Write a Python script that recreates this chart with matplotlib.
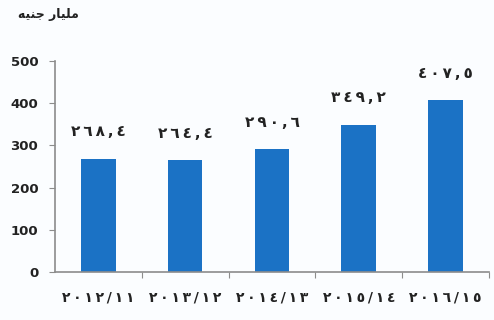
import matplotlib
matplotlib.use('Agg')
import matplotlib.pyplot as plt
import numpy as np

#data
years = ['2012/11', '2013/12', '2014/13', '2015/14', '2016/15']
values = [268.4, 264.4, 290.6, 349.2, 407.5]
y_ticks = [0, 100, 200, 300, 400, 500]

#unit title, already shaped (presentation forms, visual order) since matplotlib has no arabic shaping
unit_title = '\ufeea\ufef4\ufee8\ufe9f \ufead\ufe8e\ufef4\ufee0\ufee3'

#western digits -> arabic-indic digits
to_arabic = str.maketrans('0123456789.', '\u0660\u0661\u0662\u0663\u0664\u0665\u0666\u0667\u0668\u0669,')

def arabic(s):
	#arabic digits with a bit of letter spacing like the original
	return '\u2009'.join(s.translate(to_arabic))

bar_color = '#1b72c5'
axis_color = '#8c8c8c'
text_color = '#222222'

fig = plt.figure(figsize=(4.94, 3.2), dpi=100)
fig.patch.set_facecolor('#fbfdff')
ax = fig.add_axes([0.111, 0.15, 0.879, 0.659])
ax.set_facecolor('#fbfdff')

x = np.arange(len(years))
ax.bar(x, values, width=0.4, color=bar_color, zorder=2)

#value labels above the bars
for xi, v in zip(x, values):
	ax.annotate(arabic(f'{v:.1f}'), (xi, v), xytext=(0, 14),
		textcoords='offset points', ha='center', va='bottom',
		fontsize=11, fontweight='bold', color=text_color, family='DejaVu Sans')

ax.set_xlim(-0.5, len(years) - 0.5)
ax.set_ylim(0, 500)

#ticks between categories on x, labels centered under bars
ax.set_xticks(x + 0.5)
ax.set_xticklabels([])
ax.set_xticks(x, minor=True)
ax.set_xticklabels([arabic(y) for y in years], minor=True,
	fontsize=10, fontweight='bold', color=text_color, family='DejaVu Sans')
ax.tick_params(axis='x', which='minor', length=0, pad=13)
ax.tick_params(axis='x', which='major', length=4, color=axis_color, direction='out')

ax.set_yticks(y_ticks)
ax.set_yticklabels([str(t) for t in y_ticks], fontsize=9.5, fontweight='bold', color=text_color)
ax.tick_params(axis='y', length=4, color=axis_color, pad=8)

for side in ['top', 'right']:
	ax.spines[side].set_visible(False)
for side in ['left', 'bottom']:
	ax.spines[side].set_color(axis_color)
	ax.spines[side].set_linewidth(1.2)

fig.text(0.037, 0.955, unit_title, fontsize=9, fontweight='bold', color=text_color,
	ha='left', va='center', family='DejaVu Sans')

fig.savefig('out.png', dpi=100, facecolor=fig.get_facecolor())
